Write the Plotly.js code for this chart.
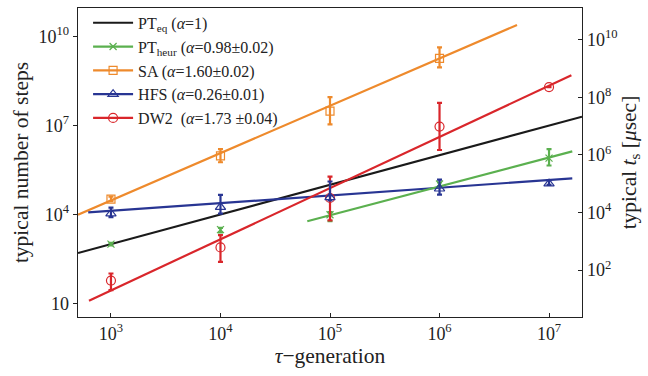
<!DOCTYPE html>
<html>
<head>
<meta charset="utf-8">
<script src="https://cdn.plot.ly/plotly-3.0.1.min.js"></script>
<style>html,body{margin:0;padding:0;background:#fff;}#plot{width:648px;height:376px;}</style>
</head>
<body>
<div id="plot"></div>
<script>
// ---- data ----
var tauGen = [1e3, 1e4, 1e5, 1e6, 1e7];

// PT_heur
var heurX = [1e3, 1e4, 1e5, 1e6, 1e7];
var heurY = [1000, 3100, 9800, 1.07e5, 8.0e5];
var heurHi = [1100, 3550, 1.2e4, 1.2e5, 1.62e6];
var heurLo = [900, 2500, 6.0e3, 9.0e4, 4.5e5];
var heurFitX = [6.2e4, 1.63e7];
var heurFitY = [5.9e3, 1.35e6];

// SA
var saX = [1e3, 1e4, 1e5, 1e6];
var saY = [3.3e4, 9.5e5, 3.1e7, 1.86e9];
var saHi = [4.0e4, 1.6e6, 9.1e7, 4.4e9];
var saLo = [2.8e4, 5.8e5, 1.1e7, 9.3e8];
var saFitX = [500, 5.1e6];
var saFitY = [9.8e3, 2.5e10];

// HFS
var hfsX = [1e3, 1e4, 1e5, 1e6, 1e7];
var hfsY = [1.07e4, 1.78e4, 3.8e4, 7.4e4, 1.1e5];
var hfsHi = [1.7e4, 4.6e4, 1.3e5, 1.5e5, 1.45e5];
var hfsLo = [8.1e3, 1.07e4, 3.0e4, 4.7e4, 1.0e5];
var hfsFitX = [620, 1.63e7];
var hfsFitY = [1.17e4, 1.66e5];

// DW2
var dwX = [1e3, 1e4, 1e5, 1e6, 1e7];
var dwY = [59, 776, 3.6e4, 9.3e6, 2.0e8];
var dwHi = [102, 2000, 1.9e5, 5.9e7, 2.0e8];
var dwLo = [28, 250, 6.3e3, 1.5e6, 2.0e8];
var dwFitX = [630, 1.6e7];
var dwFitY = [12.3, 5.0e8];

// PT_eq (alpha = 1)
var eqFitX = [500, 2e7];
var eqFitY = [500, 2e7];

var names = [
  'PT<sub>eq</sub> (<i>α</i>=1)',
  'PT<sub>heur</sub> (<i>α</i>=0.98±0.02)',
  'SA (<i>α</i>=1.60±0.02)',
  'HFS (<i>α</i>=0.26±0.01)',
  'DW2  (<i>α</i>=1.73 ±0.04)'
];

// tick labels
var xTickVals = [1e3, 1e4, 1e5, 1e6, 1e7];
var xTickText = ['10<sup>3</sup>', '10<sup>4</sup>', '10<sup>5</sup>', '10<sup>6</sup>', '10<sup>7</sup>'];
var yTickVals = [10, 1e4, 1e7, 1e10];
var yTickText = ['10', '10<sup>4</sup>', '10<sup>7</sup>', '10<sup>10</sup>'];
var y2TickVals = [1e2, 1e4, 1e6, 1e8, 1e10];
var y2TickText = ['10<sup>2</sup>', '10<sup>4</sup>', '10<sup>6</sup>', '10<sup>8</sup>', '10<sup>10</sup>'];

// ---- styling ----
var cBlack = '#1a1a1a', cGreen = '#5bb04f', cOrange = '#ee8a2c', cBlue = '#283593', cRed = '#d9262b';
var serif = 'Liberation Serif, Times New Roman, serif';

function diff(a, b) { return a.map(function (v, i) { return v - b[i]; }); }

function pts(x, y, hi, lo, color, sym, size) {
  return {
    x: x, y: y, mode: 'markers', type: 'scatter', showlegend: false, hoverinfo: 'skip',
    marker: {symbol: sym, size: size, color: color, line: {color: color, width: 1.2}},
    error_y: {type: 'data', symmetric: false, array: diff(hi, y), arrayminus: diff(y, lo),
              color: color, thickness: 2.2, width: 2.5}
  };
}
function fit(x, y, color) {
  return {x: x, y: y, mode: 'lines', type: 'scatter', showlegend: false, hoverinfo: 'skip',
          line: {color: color, width: 2.2}};
}
function leg(name, color, sym, size) {
  return {x: [null], y: [null], mode: sym ? 'lines+markers' : 'lines', type: 'scatter', name: name,
          line: {color: color, width: 2.2},
          marker: {symbol: sym || 'circle', size: size || 6, color: color, line: {color: color, width: 1.2}}};
}

var traces = [
  fit(eqFitX, eqFitY, cBlack),
  fit(saFitX, saFitY, cOrange),
  fit(hfsFitX, hfsFitY, cBlue),
  fit(dwFitX, dwFitY, cRed),
  fit(heurFitX, heurFitY, cGreen),
  pts(saX, saY, saHi, saLo, cOrange, 'square-open', 8),
  pts(heurX, heurY, heurHi, heurLo, cGreen, 'x-thin-open', 7),
  pts(dwX, dwY, dwHi, dwLo, cRed, 'circle-open', 9),
  pts(hfsX, hfsY, hfsHi, hfsLo, cBlue, 'triangle-up-open', 9),
  leg(names[0], cBlack),
  leg(names[1], cGreen, 'x-thin-open', 7),
  leg(names[2], cOrange, 'square-open', 8),
  leg(names[3], cBlue, 'triangle-up-open', 9),
  leg(names[4], cRed, 'circle-open', 9),
  {x: [null], y: [null], yaxis: 'y2', mode: 'markers', showlegend: false, hoverinfo: 'skip'}
];

var layout = {
  width: 648, height: 376,
  margin: {l: 78, r: 66, t: 6, b: 59},
  paper_bgcolor: '#fff', plot_bgcolor: '#fff',
  font: {family: serif, size: 16, color: '#222'},
  showlegend: true,
  legend: {x: 0.02, y: 1.007, xanchor: 'left', yanchor: 'top', bgcolor: 'rgba(255,255,255,0)',
           font: {family: serif, size: 16, color: '#222'}, tracegroupgap: 0, itemwidth: 40},
  xaxis: {
    type: 'log', range: [Math.log10(500), Math.log10(2e7)],
    tickvals: xTickVals, ticktext: xTickText, ticks: 'inside', ticklen: 4, tickcolor: '#222',
    showline: true, linecolor: '#222', linewidth: 1.3, mirror: true,
    showgrid: false, zeroline: false,
    tickfont: {family: serif, size: 18},
    title: {text: '<i>τ</i>−generation', font: {family: serif, size: 21.5}, standoff: 5}
  },
  yaxis: {
    type: 'log', range: [0.54, 10.97],
    tickvals: yTickVals, ticktext: yTickText, ticks: 'outside', ticklen: 4, tickcolor: '#222',
    showline: true, linecolor: '#222', linewidth: 1.3,
    showgrid: false, zeroline: false,
    tickfont: {family: serif, size: 18},
    title: {text: 'typical number of steps', font: {family: serif, size: 21.5}, standoff: 4}
  },
  yaxis2: {
    type: 'log', range: [0.37, 11.1], overlaying: 'y', side: 'right',
    tickvals: y2TickVals, ticktext: y2TickText, ticks: 'inside', ticklen: 4, tickcolor: '#222',
    showline: true, linecolor: '#222', linewidth: 1.3,
    showgrid: false, zeroline: false,
    tickfont: {family: serif, size: 18},
    title: {text: 'typical <i>t</i><sub>s</sub> [<i>μ</i>sec]', font: {family: serif, size: 21.5}, standoff: 4}
  }
};

Plotly.newPlot('plot', traces, layout, {staticPlot: true, displayModeBar: false});
</script>
</body>
</html>
